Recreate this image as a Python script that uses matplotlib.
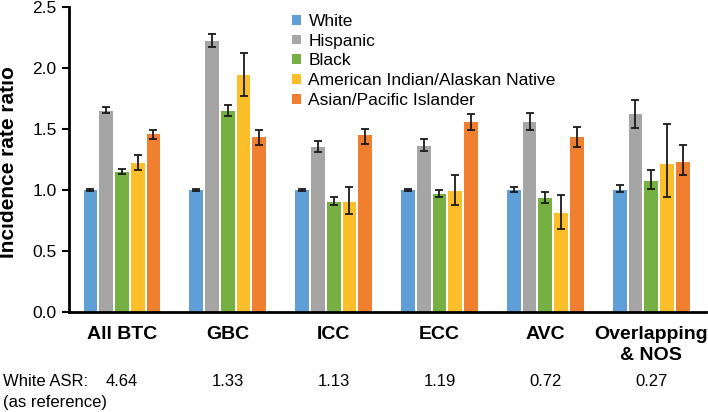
import matplotlib
matplotlib.use("Agg")
import matplotlib.pyplot as plt
import numpy as np

plt.rcParams['font.family'] = ['Liberation Sans', 'DejaVu Sans']

groups = ['All BTC', 'GBC', 'ICC', 'ECC', 'AVC', 'Overlapping\n& NOS']
white_asr = ['4.64', '1.33', '1.13', '1.19', '0.72', '0.27']
races = ['White', 'Hispanic', 'Black', 'American Indian/Alaskan Native',
         'Asian/Pacific Islander']
colors = ['#5f9ed6', '#a5a5a5', '#76b043', '#fcbf2a', '#f0802f']

# incidence rate ratio, lower and upper CI
white = [1.00, 1.00, 1.00, 1.00, 1.00, 1.00]
white_lo = [0.99, 0.99, 0.99, 0.99, 0.98, 0.98]
white_hi = [1.01, 1.01, 1.01, 1.01, 1.02, 1.04]
hispanic = [1.65, 2.22, 1.35, 1.36, 1.56, 1.62]
hispanic_lo = [1.63, 2.17, 1.31, 1.32, 1.49, 1.51]
hispanic_hi = [1.68, 2.28, 1.40, 1.42, 1.63, 1.74]
black = [1.15, 1.65, 0.90, 0.97, 0.93, 1.07]
black_lo = [1.13, 1.61, 0.88, 0.94, 0.89, 1.01]
black_hi = [1.17, 1.70, 0.94, 1.00, 0.98, 1.16]
aian = [1.22, 1.94, 0.90, 0.99, 0.81, 1.21]
aian_lo = [1.16, 1.77, 0.80, 0.88, 0.68, 0.94]
aian_hi = [1.29, 2.12, 1.02, 1.12, 0.96, 1.54]
api = [1.46, 1.43, 1.45, 1.56, 1.43, 1.23]
api_lo = [1.42, 1.37, 1.38, 1.49, 1.35, 1.12]
api_hi = [1.49, 1.49, 1.50, 1.62, 1.52, 1.37]

vals = [white, hispanic, black, aian, api]
los = [white_lo, hispanic_lo, black_lo, aian_lo, api_lo]
his = [white_hi, hispanic_hi, black_hi, aian_hi, api_hi]

fig = plt.figure(figsize=(7.08, 4.12), dpi=100)
ax = fig.add_axes([0.0975, 0.243, 0.9, 0.74])

x = np.arange(len(groups))
slot = 0.149
for i in range(5):
    v = np.array(vals[i])
    err = [v - np.array(los[i]), np.array(his[i]) - v]
    ax.bar(x + (i - 2) * slot, v, width=0.13, color=colors[i],
           label=races[i], zorder=2)
    ax.errorbar(x + (i - 2) * slot, v, yerr=err, fmt='none', ecolor='#1a1a1a',
                elinewidth=1.3, capsize=3.2, capthick=1.3, zorder=3)

ax.set_xlim(-0.5, 5.52)
ax.set_ylim(0, 2.5)
ax.set_yticks([0, 0.5, 1.0, 1.5, 2.0, 2.5])
ax.set_yticklabels(['0.0', '0.5', '1.0', '1.5', '2.0', '2.5'], fontsize=12.5)
ax.set_xticks(x)
ax.set_xticklabels(groups, fontsize=14, fontweight='bold', linespacing=1.3,
                   va='top')
ax.tick_params(axis='x', length=0, pad=10)
ax.tick_params(axis='y', length=5, width=1.5, pad=4)
for s in ['top', 'right']:
    ax.spines[s].set_visible(False)
for s in ['left', 'bottom']:
    ax.spines[s].set_linewidth(2)

fig.text(9 / 708, 1 - 162 / 412, 'Incidence rate ratio', rotation=90,
         ha='center', va='center', fontsize=15, fontweight='bold')

# White ASR row
row_tr = matplotlib.transforms.blended_transform_factory(ax.transData, fig.transFigure)
for xi, t in zip(x, white_asr):
    ax.text(xi, 1 - 382 / 412, t, transform=row_tr, ha='center', va='center',
            fontsize=12)
fig.text(0.004, 1 - 382 / 412, 'White ASR:', ha='left', va='center', fontsize=12)
fig.text(0.004, 1 - 402 / 412, '(as reference)', ha='left', va='center', fontsize=12)

ax.legend(loc='upper left', bbox_to_anchor=(292 / 708, 1 - 14 / 412),
          bbox_transform=fig.transFigure, frameon=False, fontsize=12.5,
          handlelength=0.5, handleheight=0.5, handletextpad=0.45,
          labelspacing=0.27, borderpad=0, borderaxespad=0)

fig.savefig('out.png', dpi=100)
